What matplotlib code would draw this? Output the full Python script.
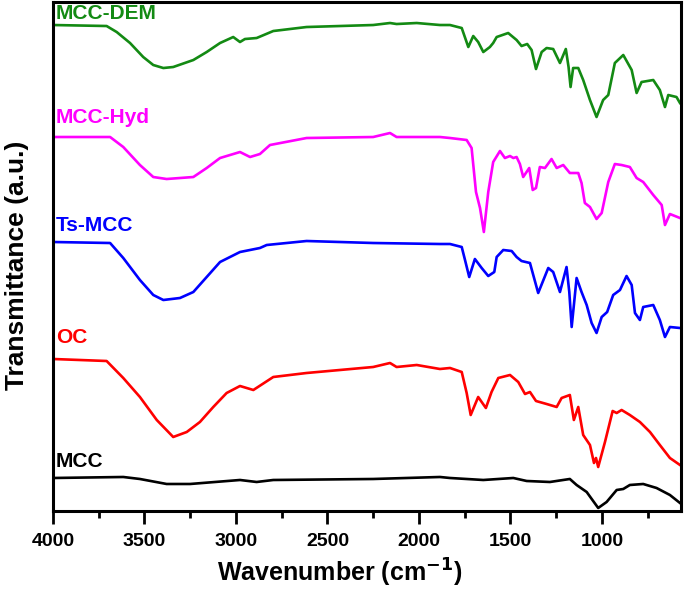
import numpy as np
import matplotlib
matplotlib.use('Agg')
import matplotlib.pyplot as plt
from matplotlib.ticker import MultipleLocator

plt.rcParams['font.family'] = ['Liberation Sans', 'DejaVu Sans']
plt.rcParams['font.weight'] = 'bold'
plt.rcParams['mathtext.default'] = 'bf'

# spectra: wavenumber (cm-1) and stacked transmittance (a.u.)
dem_wn = [4000, 3707, 3652, 3579, 3507, 3452, 3397, 3343, 3233, 3160, 3087, 3015, 2978, 2951, 2887, 2796,
          2614, 2250, 2158, 2122, 2012, 1885, 1830, 1766, 1730, 1703, 1676, 1648, 1612, 1594, 1575, 1512,
          1466, 1439, 1408, 1384, 1360, 1329, 1302, 1266, 1229, 1197, 1182, 1171, 1157, 1129, 1102, 1065,
          1029, 993, 965, 929, 883, 837, 810, 783, 719, 683, 655, 637, 592, 573]
dem_t = [486, 485, 479, 468, 454, 446, 443, 444, 451, 459, 468, 474, 469, 472, 473, 480,
         484, 486, 488, 487, 488, 486, 486, 483, 464, 475, 469, 459, 464, 468, 474, 478,
         471, 465, 467, 461, 442, 459, 463, 462, 448, 462, 444, 424, 443, 443, 431, 411,
         394, 411, 416, 448, 456, 441, 418, 429, 431, 421, 404, 416, 414, 408]

hyd_wn = [4000, 3688, 3616, 3525, 3452, 3379, 3233, 3160, 3087, 2978, 2923, 2869, 2814, 2614, 2250, 2158,
          2122, 1885, 1830, 1739, 1712, 1688, 1666, 1645, 1621, 1594, 1557, 1530, 1502, 1484, 1466, 1448,
          1430, 1397, 1378, 1360, 1339, 1311, 1275, 1247, 1211, 1175, 1129, 1111, 1093, 1065, 1029, 1001,
          965, 929, 892, 847, 810, 774, 719, 673, 655, 628, 573]
hyd_t = [374, 374, 364, 346, 334, 332, 334, 343, 353, 359, 354, 357, 366, 373, 374, 378,
         374, 374, 373, 371, 363, 319, 303, 279, 319, 349, 360, 353, 355, 353, 354, 347,
         334, 343, 321, 323, 344, 343, 352, 343, 346, 338, 338, 328, 308, 304, 292, 298,
         329, 347, 346, 344, 333, 329, 316, 306, 286, 297, 293]

ts_wn = [4000, 3688, 3616, 3525, 3452, 3397, 3306, 3233, 3160, 3087, 2978, 2869, 2832, 2614, 2250, 1885,
         1830, 1766, 1748, 1725, 1694, 1657, 1621, 1588, 1575, 1539, 1493, 1466, 1439, 1393, 1348, 1293,
         1266, 1229, 1193, 1178, 1165, 1138, 1111, 1083, 1056, 1029, 1001, 971, 938, 901, 865, 837,
         819, 792, 774, 719, 683, 655, 628, 573]
ts_t = [269, 268, 253, 231, 216, 211, 213, 219, 234, 249, 259, 263, 266, 270, 268, 267,
        267, 264, 251, 234, 252, 243, 235, 239, 254, 261, 260, 254, 250, 248, 218, 243,
        239, 219, 244, 219, 184, 233, 219, 206, 188, 178, 194, 199, 216, 221, 235, 226,
        198, 191, 204, 206, 191, 174, 184, 183]

oc_wn = [4000, 3707, 3616, 3525, 3433, 3343, 3269, 3197, 3124, 3051, 2978, 2905, 2796, 2614, 2250, 2158,
         2122, 2012, 1885, 1830, 1766, 1739, 1717, 1676, 1634, 1603, 1566, 1502, 1457, 1420, 1393, 1360,
         1302, 1247, 1220, 1175, 1153, 1129, 1102, 1065, 1043, 1032, 1020, 983, 941, 919, 892, 847,
         792, 737, 683, 628, 573]
oc_t = [152, 150, 133, 114, 91, 74, 79, 89, 104, 118, 125, 121, 134, 138, 144, 148,
        144, 146, 142, 143, 139, 118, 96, 114, 103, 119, 133, 136, 129, 117, 119, 110,
        107, 104, 113, 116, 91, 104, 76, 66, 48, 53, 44, 69, 100, 98, 101, 96,
        89, 79, 66, 53, 46]

mcc_wn = [4000, 3616, 3525, 3379, 3251, 2978, 2887, 2796, 2250, 1885, 1830, 1648, 1484, 1411, 1284, 1175,
          1138, 1083, 1020, 974, 919, 883, 847, 774, 701, 628, 573]
mcc_t = [33, 34, 32, 27, 27, 31, 29, 31, 32, 34, 33, 31, 33, 30, 29, 32,
         26, 19, 3, 9, 21, 22, 26, 27, 23, 16, 8]

names = ['MCC-DEM', 'MCC-Hyd', 'Ts-MCC', 'OC', 'MCC']
colors = ['#138a13', '#ff00ff', '#0000ff', '#ff0000', '#000000']
label_y = [498, 394, 286, 173, 49]

fig = plt.figure(figsize=(6.85, 5.93), dpi=100)
ax = fig.add_axes([0.0774, 0.1383, 0.9166, 0.8583])

series = [(dem_wn, dem_t), (hyd_wn, hyd_t), (ts_wn, ts_t), (oc_wn, oc_t), (mcc_wn, mcc_t)]
for (wn, t), name, c, ly in zip(series, names, colors, label_y):
    ax.plot(wn, t, color=c, lw=1.9, solid_joinstyle='round')
    ax.text(3985, ly, name, color=c, fontsize=15, fontweight='bold', ha='left', va='center')

ax.set_xlim(4000, 568)
ax.set_ylim(0, 509)
ax.set_yticks([])
ax.xaxis.set_major_locator(MultipleLocator(500))
ax.xaxis.set_minor_locator(MultipleLocator(250))
ax.tick_params(axis='x', which='major', direction='out', length=9, width=2, labelsize=14, pad=7)
ax.tick_params(axis='x', which='minor', direction='out', length=5, width=2)
for s in ax.spines.values():
    s.set_linewidth(2.2)
for lab in ax.get_xticklabels():
    lab.set_fontweight('bold')

ax.set_xlabel('Wavenumber (cm$^{-1}$)', fontsize=18, fontweight='bold')
ax.xaxis.set_label_coords(0.457, -0.09)
ax.xaxis.label.set_va('top')
ax.set_ylabel('Transmittance (a.u.)', fontsize=19, fontweight='bold')
ax.yaxis.set_label_coords(-0.038, 0.483)

fig.savefig('out.png', dpi=100)
